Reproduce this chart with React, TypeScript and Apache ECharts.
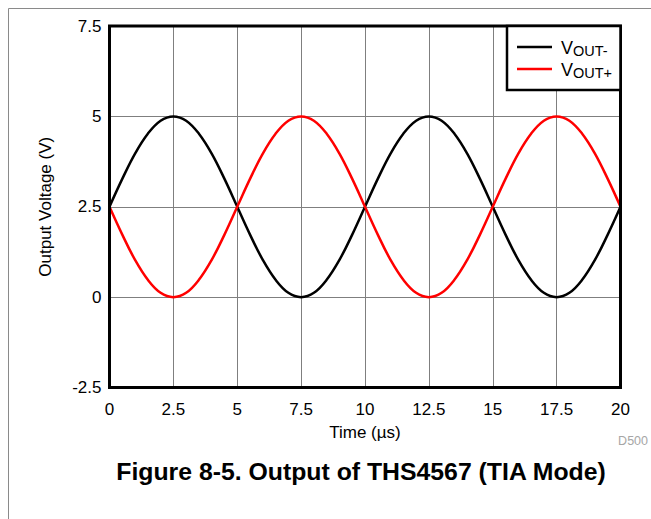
import React, { useEffect, useRef } from "react";
import * as echarts from "echarts";

const FONT = "'Liberation Sans', Arial, Helvetica, sans-serif";

const time = [
  0, 0.5, 1, 1.5, 2, 2.5, 3, 3.5, 4, 4.5, 5, 5.5, 6, 6.5, 7, 7.5, 8, 8.5, 9, 9.5,
  10, 10.5, 11, 11.5, 12, 12.5, 13, 13.5, 14, 14.5, 15, 15.5, 16, 16.5, 17, 17.5, 18, 18.5, 19, 19.5, 20,
];
const voutMinus = [
  2.5, 3.27, 3.97, 4.52, 4.88, 5, 4.88, 4.52, 3.97, 3.27, 2.5, 1.73, 1.03, 0.48, 0.12, 0, 0.12, 0.48, 1.03, 1.73,
  2.5, 3.27, 3.97, 4.52, 4.88, 5, 4.88, 4.52, 3.97, 3.27, 2.5, 1.73, 1.03, 0.48, 0.12, 0, 0.12, 0.48, 1.03, 1.73, 2.5,
];
const voutPlus = [
  2.5, 1.73, 1.03, 0.48, 0.12, 0, 0.12, 0.48, 1.03, 1.73, 2.5, 3.27, 3.97, 4.52, 4.88, 5, 4.88, 4.52, 3.97, 3.27,
  2.5, 1.73, 1.03, 0.48, 0.12, 0, 0.12, 0.48, 1.03, 1.73, 2.5, 3.27, 3.97, 4.52, 4.88, 5, 4.88, 4.52, 3.97, 3.27, 2.5,
];
const xTicks = { min: 0, max: 20, interval: 2.5 };
const yTicks = { min: -2.5, max: 7.5, interval: 2.5 };

const titleText = "Figure 8-5. Output of THS4567 (TIA Mode)";

export default function App() {
  const ref = useRef<HTMLDivElement>(null);
  useEffect(() => {
    if (!ref.current) return;
    const chart = echarts.init(ref.current, null, { renderer: "svg" });
    const pairs = (ys: number[]) => time.map((t, i) => [t, ys[i]]);
    const legendRich = {
      a: { fontSize: 18, fontFamily: FONT, fill: "#000", lineHeight: 20, verticalAlign: "middle" },
      b: { fontSize: 14.5, fontFamily: FONT, fill: "#000", lineHeight: 20, verticalAlign: "bottom", padding: [6, 0, 0, 0] },
    };
    chart.setOption({
      animation: false,
      backgroundColor: "#fff",
      textStyle: { fontFamily: FONT },
      grid: {
        left: 109.5,
        right: 30.5,
        top: 26,
        bottom: 131.5,
        show: true,
        borderColor: "#000",
        borderWidth: 3,
        z: 5,
      },
      xAxis: {
        type: "value",
        min: xTicks.min,
        max: xTicks.max,
        interval: xTicks.interval,
        name: "Time (µs)",
        nameLocation: "middle",
        nameGap: 36,
        nameTextStyle: { fontSize: 17, color: "#000", fontFamily: FONT },
        axisLine: { show: false },
        axisTick: { show: false },
        axisLabel: { fontSize: 17, color: "#000", margin: 13, fontFamily: FONT },
        splitLine: { show: true, lineStyle: { color: "#7f7f7f", width: 1 } },
      },
      yAxis: {
        type: "value",
        min: yTicks.min,
        max: yTicks.max,
        interval: yTicks.interval,
        name: "Output Voltage (V)",
        nameLocation: "middle",
        nameGap: 56,
        nameTextStyle: { fontSize: 17, color: "#000", fontFamily: FONT },
        axisLine: { show: false },
        axisTick: { show: false },
        axisLabel: { fontSize: 17, color: "#000", margin: 8, fontFamily: FONT },
        splitLine: { show: true, lineStyle: { color: "#7f7f7f", width: 1 } },
      },
      series: [
        {
          name: "VOUT-",
          type: "line",
          data: pairs(voutMinus),
          smooth: 0.4,
          showSymbol: false,
          lineStyle: { color: "#000", width: 2.5 },
          z: 3,
        },
        {
          name: "VOUT+",
          type: "line",
          data: pairs(voutPlus),
          smooth: 0.4,
          showSymbol: false,
          lineStyle: { color: "#ff0000", width: 2.5 },
          z: 4,
        },
      ],
      graphic: [
        {
          type: "rect",
          shape: { x: 8.5, y: 8.5, width: 700, height: 600 },
          style: { fill: "none", stroke: "#8a8a8a", lineWidth: 1 },
          z: 1,
        },
        {
          type: "rect",
          shape: { x: 507, y: 26, width: 113.5, height: 64 },
          style: { fill: "#fff", stroke: "#000", lineWidth: 2.5 },
          z: 10,
        },
        {
          type: "line",
          shape: { x1: 517, y1: 47, x2: 552, y2: 47 },
          style: { stroke: "#000", lineWidth: 2.5 },
          z: 11,
        },
        {
          type: "line",
          shape: { x1: 517, y1: 69, x2: 552, y2: 69 },
          style: { stroke: "#ff0000", lineWidth: 2.5 },
          z: 11,
        },
        {
          type: "text",
          x: 561,
          y: 48,
          z: 11,
          style: { text: "{a|V}{b|OUT-}", verticalAlign: "middle", textAlign: "left", rich: legendRich },
        },
        {
          type: "text",
          x: 561,
          y: 70,
          z: 11,
          style: { text: "{a|V}{b|OUT+}", verticalAlign: "middle", textAlign: "left", rich: legendRich },
        },
        {
          type: "text",
          x: 648,
          y: 441,
          z: 11,
          style: {
            text: "D500",
            fontSize: 12.5,
            fontFamily: FONT,
            fill: "#a6a6a6",
            textAlign: "right",
            verticalAlign: "middle",
          },
        },
        {
          type: "text",
          x: 361,
          y: 471,
          z: 11,
          style: {
            text: titleText,
            fontSize: 24.8,
            fontWeight: "bold",
            fontFamily: FONT,
            fill: "#000",
            textAlign: "center",
            verticalAlign: "middle",
          },
        },
      ],
    });
    return () => chart.dispose();
  }, []);
  return (
    <div
      ref={ref}
      style={{ position: "fixed", left: 0, top: 0, width: 651, height: 519, background: "#fff" }}
    />
  );
}
